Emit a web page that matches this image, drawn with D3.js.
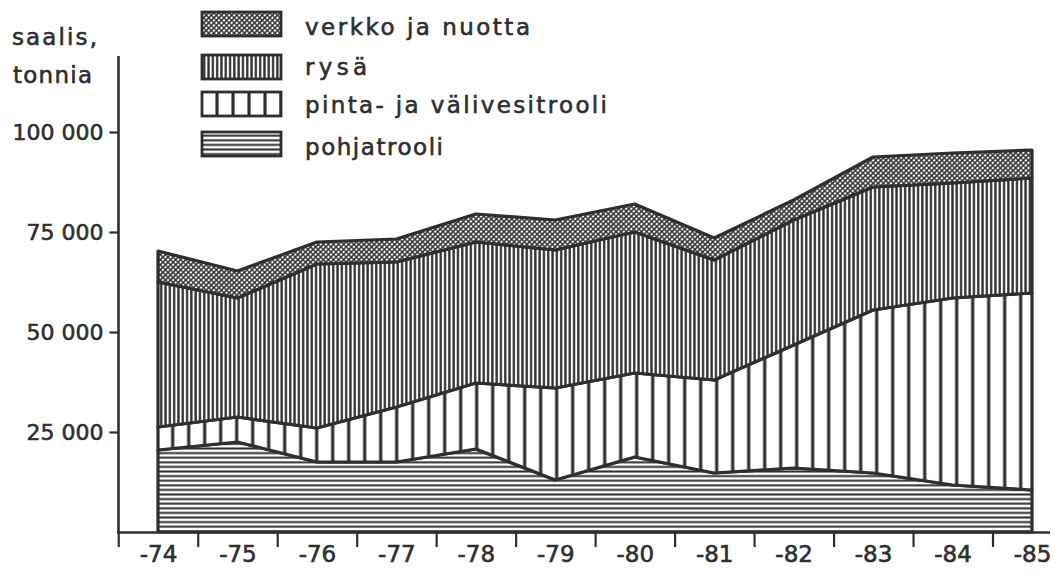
<!DOCTYPE html>
<html><head><meta charset="utf-8">
<script src="https://cdn.jsdelivr.net/npm/d3@7"></script>
<style>
html,body{margin:0;padding:0;background:#fff;}
svg{display:block;font-family:"DejaVu Sans",sans-serif;}
</style></head>
<body><svg id="chart" width="1055" height="573"></svg>
<script>
// ---- data (tonnes) ----
const years = ["-74","-75","-76","-77","-78","-79","-80","-81","-82","-83","-84","-85"];
const pohjatrooli = [20500,22500,17500,17500,20750,13000,18750,14750,16000,14750,11750,10500];
const pintaJaValivesitrooli = [5750,6250,8500,13750,16500,23000,21000,23250,30750,40750,46750,49250];
const rysa = [36250,29750,41000,36250,35250,34500,35250,30000,31250,30750,28750,28750];
const verkkoJaNuotta = [7750,6750,5500,5750,7000,7500,7000,5500,5000,7500,7500,7000];
const seriesKeys = ["pohja","pinta","rysa","verkko"];
const seriesNames = {pohja:"pohjatrooli", pinta:"pinta- ja välivesitrooli", rysa:"rysä", verkko:"verkko ja nuotta"};
const legendOrder = ["verkko","rysa","pinta","pohja"];
const yTicks = [25000,50000,75000,100000];
const yTickLabels = ["25 000","50 000","75 000","100 000"];
const yTitle = ["saalis,","tonnia"];

const rows = years.map((yr,i)=>({year:yr, pohja:pohjatrooli[i], pinta:pintaJaValivesitrooli[i], rysa:rysa[i], verkko:verkkoJaNuotta[i]}));

const ink = "#2f2f2f";
const svg = d3.select("#chart");
const defs = svg.append("defs");

function pattern(id, type, ox){
  let p;
  if(type==="verkko"){
    const s = 3.6;
    p = defs.append("pattern").attr("id",id).attr("patternUnits","userSpaceOnUse")
      .attr("width",s).attr("height",s).attr("patternTransform","rotate(45)");
    p.append("rect").attr("width",s).attr("height",s).attr("fill","#fff");
    p.append("path").attr("d",`M0,${s/2}H${s}M${s/2},0V${s}`).attr("stroke",ink).attr("stroke-width",1.5);
  } else if(type==="rysa"){
    p = defs.append("pattern").attr("id",id).attr("patternUnits","userSpaceOnUse")
      .attr("width",4.3).attr("height",10).attr("x",ox||0);
    p.append("rect").attr("width",4.3).attr("height",10).attr("fill","#fff");
    p.append("path").attr("d","M2.15,0V10").attr("stroke",ink).attr("stroke-width",2.3);
  } else if(type==="pinta"){
    const w = 16;
    p = defs.append("pattern").attr("id",id).attr("patternUnits","userSpaceOnUse")
      .attr("width",w).attr("height",10).attr("x",ox||0);
    p.append("rect").attr("width",w).attr("height",10).attr("fill","#fff");
    p.append("path").attr("d","M0,0V10M"+w+",0V10").attr("stroke",ink).attr("stroke-width",3.2);
  } else {
    p = defs.append("pattern").attr("id",id).attr("patternUnits","userSpaceOnUse")
      .attr("width",10).attr("height",4.6);
    p.append("rect").attr("width",10).attr("height",4.6).attr("fill","#fff");
    p.append("path").attr("d","M0,2.3H10").attr("stroke",ink).attr("stroke-width",2);
  }
}
pattern("p-verkko","verkko");
pattern("p-rysa","rysa");
pattern("p-pinta","pinta",476.7);
pattern("p-pohja","pohja");
pattern("pl-pinta","pinta",201);

// ---- scales ----
const x = d3.scalePoint().domain(years).range([158,1032]);
const xb = d3.scaleBand().domain(years).range([118.25,1072]).paddingInner(0).paddingOuter(0);
const y = d3.scaleLinear().domain([0,100000]).range([532,132]);

// ---- stacked areas ----
const stack = d3.stack().keys(seriesKeys);
const layers = stack(rows);
const area = d3.area().x(d=>x(d.data.year)).y0(d=>y(d[0])).y1(d=>y(d[1]));
svg.append("g").selectAll("path").data(layers).join("path")
  .attr("d",area)
  .attr("fill",d=>"url(#p-"+d.key+")")
  .attr("stroke",ink).attr("stroke-width",3.2).attr("stroke-linejoin","round");

// ---- axes ----
const textStroke = sel => sel.attr("stroke",ink).attr("stroke-width",0.6).attr("fill",ink);
const gy = svg.append("g").attr("transform","translate(118.5,0)")
  .call(d3.axisLeft(y).tickValues(yTicks).tickFormat((d,i)=>yTickLabels[i]).tickSize(9).tickPadding(6));
gy.select(".domain").remove();
gy.selectAll(".tick line").attr("stroke",ink).attr("stroke-width",2.2);
gy.selectAll(".tick text").call(textStroke).style("font-size","22px").style("font-family","DejaVu Sans");
svg.append("line").attr("x1",118.5).attr("x2",118.5).attr("y1",56).attr("y2",533)
  .attr("stroke",ink).attr("stroke-width",2.6);

const gx = svg.append("g").attr("transform","translate(0,532)")
  .call(d3.axisBottom(x).tickSize(0).tickPadding(0));
gx.select(".domain").remove();
gx.selectAll(".tick text").attr("y",30).attr("dy",0).call(textStroke)
  .style("font-size","23px").style("font-family","DejaVu Sans");
svg.append("line").attr("x1",117).attr("x2",1050).attr("y1",532.5).attr("y2",532.5)
  .attr("stroke",ink).attr("stroke-width",2.6);
svg.append("g").selectAll("line").data(years).join("line")
  .attr("x1",d=>xb(d)+0.5).attr("x2",d=>xb(d)+0.5).attr("y1",532).attr("y2",547)
  .attr("stroke",ink).attr("stroke-width",2.2);

// ---- y title ----
svg.append("text").attr("x",12).attr("y",45).call(textStroke).style("font-size","23px")
  .attr("textLength",85).attr("lengthAdjust","spacing").text(yTitle[0]);
svg.append("text").attr("x",13).attr("y",83).call(textStroke).style("font-size","23px")
  .attr("textLength",79).attr("lengthAdjust","spacing").text(yTitle[1]);

// ---- legend ----
const legTops = {verkko:12, rysa:55, pinta:92, pohja:132};
const legBase = {verkko:35, rysa:75, pinta:113, pohja:155};
const legLen = {verkko:225, rysa:62, pinta:302, pohja:138};
const lg = svg.append("g");
legendOrder.forEach(k=>{
  lg.append("rect").attr("x",202).attr("y",legTops[k]).attr("width",79).attr("height",24)
    .attr("fill",k==="pinta"?"url(#pl-pinta)":"url(#p-"+k+")")
    .attr("stroke",ink).attr("stroke-width",2.8);
  lg.append("text").attr("x",305).attr("y",legBase[k]).call(textStroke)
    .style("font-size","23px").attr("textLength",legLen[k]).attr("lengthAdjust","spacing")
    .text(seriesNames[k]);
});
</script>
</body></html>
